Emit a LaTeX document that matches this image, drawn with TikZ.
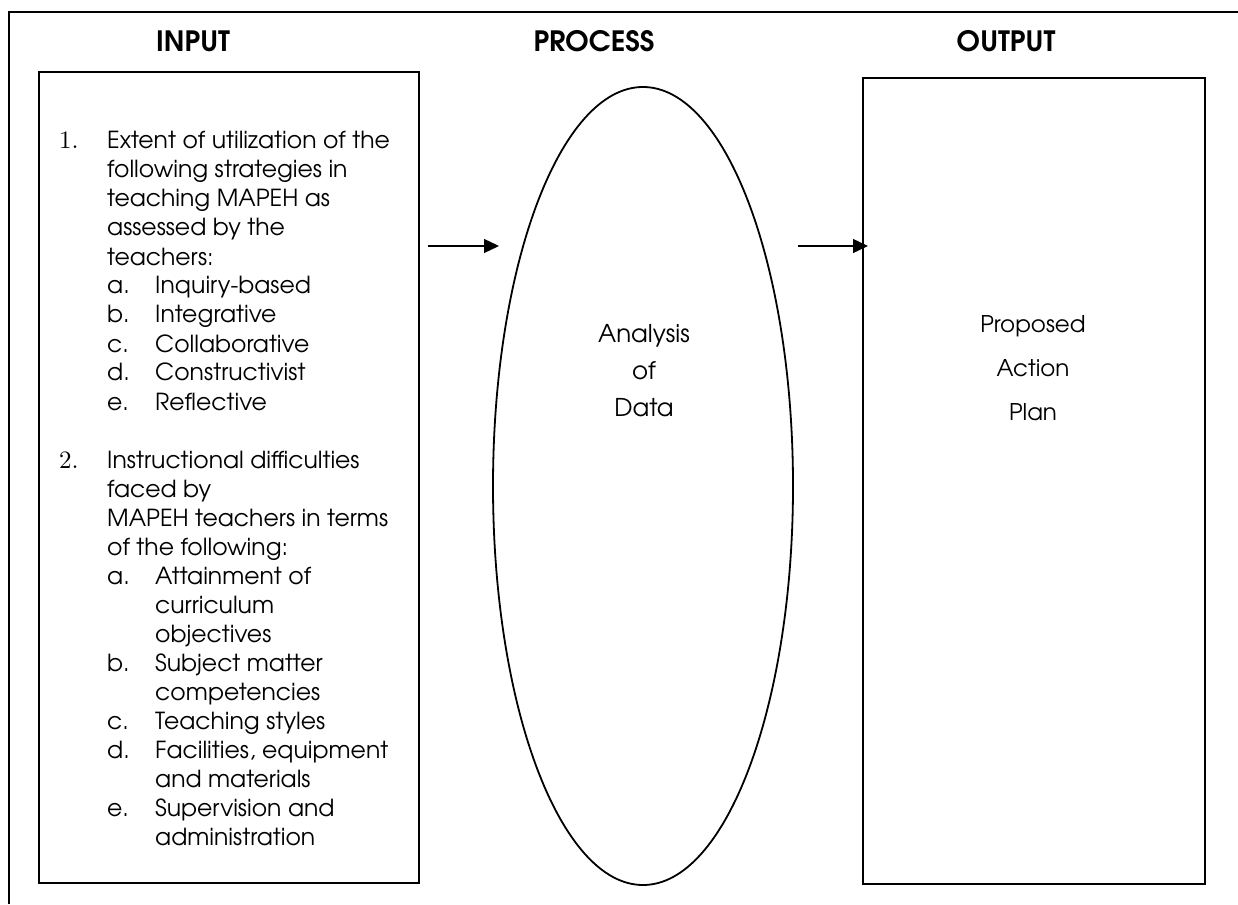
\documentclass[tikz,border=0pt]{standalone}
\usepackage{fontspec}
\setmainfont{texgyreadventor}[Extension=.otf, UprightFont=*-regular, BoldFont=*-bold, ItalicFont=*-italic, BoldItalicFont=*-bolditalic]
\newfontfamily\numfont{lmroman10-regular}[Extension=.otf]
\usetikzlibrary{shapes.geometric, arrows.meta}
\newcommand\myNum[2]{\makebox[48pt][l]{\numfont\fontsize{25}{29}\selectfont #1}#2}
\newcommand\mySub[2]{\hspace*{48pt}\makebox[48pt][l]{#1}#2}
\newcommand\myCont[1]{\hspace*{48pt}#1}
\newcommand\mySubCont[1]{\hspace*{96pt}#1}
\begin{document}
\begin{tikzpicture}[x=1pt,y=-1pt,
  boxstyle/.style={draw, line width=1.6pt, inner sep=0pt, anchor=north west},
  headstyle/.style={font=\fontsize{28}{32}\selectfont\bfseries, anchor=base, inner sep=0pt},
  arr/.style={line width=1.3pt, -{Triangle[length=15pt,width=14pt]}},
  txt/.style={inner sep=0pt, anchor=base}]
\useasboundingbox (0,0) rectangle (1238,904);
% outer frame (partly cropped)
\draw[line width=2pt] (9,904) -- (9,12) -- (1238,12);
% headings
\node[headstyle] (hin) at (193,52) {INPUT};
\node[headstyle] (hproc) at (594,52) {PROCESS};
\node[headstyle] (hout) at (1006,52) {OUTPUT};
% boxes
\node[boxstyle, minimum width=380pt, minimum height=811pt] (inbox) at (38,71) {};
\node[boxstyle, minimum width=342pt, minimum height=806pt] (outbox) at (862,77) {};
\node[draw, ellipse, line width=1.8pt, inner sep=0pt, minimum width=300pt, minimum height=798pt] (proc) at (643,486) {};
% input list
\node[inner sep=0pt, anchor=base west, font=\fontsize{23.5}{29}\selectfont] (inlist) at (59,149) {%
\begin{tabular}[t]{@{}l@{}}
\myNum{1.}{Extent of utilization of the}\\
\myCont{following strategies in}\\
\myCont{teaching MAPEH as}\\
\myCont{assessed by the}\\
\myCont{teachers:}\\
\mySub{a.}{Inquiry-based}\\
\mySub{b.}{Integrative}\\
\mySub{c.}{Collaborative}\\
\mySub{d.}{Constructivist}\\
\mySub{e.}{Reflective}\\
\\
\myNum{2.}{Instructional difficulties}\\
\myCont{faced by}\\
\myCont{MAPEH teachers in terms}\\
\myCont{of the following:}\\
\mySub{a.}{Attainment of}\\
\mySubCont{curriculum}\\
\mySubCont{objectives}\\
\mySub{b.}{Subject matter}\\
\mySubCont{competencies}\\
\mySub{c.}{Teaching styles}\\
\mySub{d.}{Facilities, equipment}\\
\mySubCont{and materials}\\
\mySub{e.}{Supervision and}\\
\mySubCont{administration}
\end{tabular}};
% process text
\node[txt, font=\fontsize{24.5}{37}\selectfont] (proctext) at (644,342) {%
\begin{tabular}[t]{@{}c@{}}Analysis\\of\\Data\end{tabular}};
% output text
\node[txt, font=\fontsize{23}{44}\selectfont] (outtext) at (1033,332) {%
\begin{tabular}[t]{@{}c@{}}Proposed\\Action\\Plan\end{tabular}};
% arrows
\coordinate (a1s) at (428,246);
\coordinate (a1e) at (499,246);
\draw[arr] (a1s) -- (a1e);
\coordinate (a2s) at (798,246);
\draw[arr] (a2s) -- ([xshift=6pt]a2s -| outbox.west);
\end{tikzpicture}
\end{document}
